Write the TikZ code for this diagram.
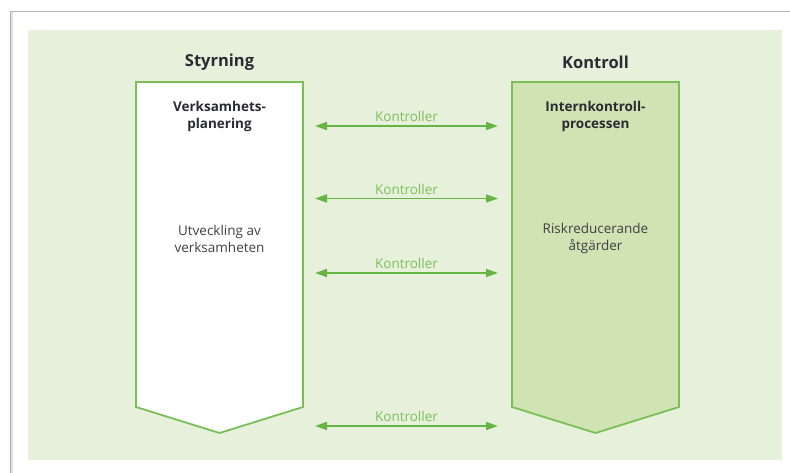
\documentclass[tikz,border=0pt]{standalone}
\usepackage{fontspec}
\setmainfont{Open Sans}
\usetikzlibrary{arrows.meta}
\definecolor{bggreen}{HTML}{E6F0DB}
\definecolor{boxline}{HTML}{79BF55}
\definecolor{boxfill}{HTML}{CFE3B3}
\definecolor{arrgreen}{HTML}{66B444}
\definecolor{lblgreen}{HTML}{7DBF5C}
\definecolor{txtdark}{HTML}{2B2B33}
\tikzset{
  colbox/.style={draw=boxline, line width=1.8pt, line join=miter},
  title/.style={font=\fontsize{16.5}{18}\selectfont\bfseries, text=txtdark},
  head/.style={font=\fontsize{13.5}{17}\selectfont\bfseries, text=txtdark, align=center},
  body/.style={font=\fontsize{13.5}{17}\selectfont, text=txtdark!90, align=center},
  lbl/.style={font=\fontsize{13.5}{14}\selectfont, text=lblgreen},
  arr/.style={draw=arrgreen, line width=1.6pt, {Triangle[length=12pt,width=8pt]}-{Triangle[length=12pt,width=8pt]}}
}
\begin{document}
\begin{tikzpicture}[x=1pt,y=-1pt]
\useasboundingbox (0,0) rectangle (790,473);
\fill[white] (0,0) rectangle (790,473);
% frame
\draw[gray!25, line width=2pt] (12,12) -- (12,473);
\draw[gray!60, line width=0.8pt] (10,473) -- (10,11) -- (790,11);
% background
\fill[bggreen] (28,30) rectangle (782,460);
% columns
\draw[colbox, fill=white] (136,82) -- (303,82) -- (303,407) -- (219.5,433) -- (136,407) -- cycle;
\draw[colbox, fill=boxfill] (512,82) -- (679,82) -- (679,407) -- (595.5,433) -- (512,407) -- cycle;
% titles
\node[title] (styr) at (219.5,62) {Styrning};
\node[title] (kont) at (595.5,62) {Kontroll};
\node[head] (verk) at (219.5,116.5) {Verksamhets-\\planering};
\node[head] (intk) at (595.5,116.5) {Internkontroll-\\processen};
\node[body] (utv) at (219.5,238.5) {Utveckling av\\verksamheten};
\node[body] (risk) at (595.5,238) {Riskreducerande\\åtgärder};
% arrows
\foreach \i/\y in {1/126,2/198.5,3/273,4/426}{
  \coordinate (l\i) at (315,\y);
  \coordinate (r\i) at (498,\y);
  \draw[arr] (l\i) -- (r\i) node[lbl, midway, above=0pt] (k\i) {Kontroller};
}
\end{tikzpicture}
\end{document}
